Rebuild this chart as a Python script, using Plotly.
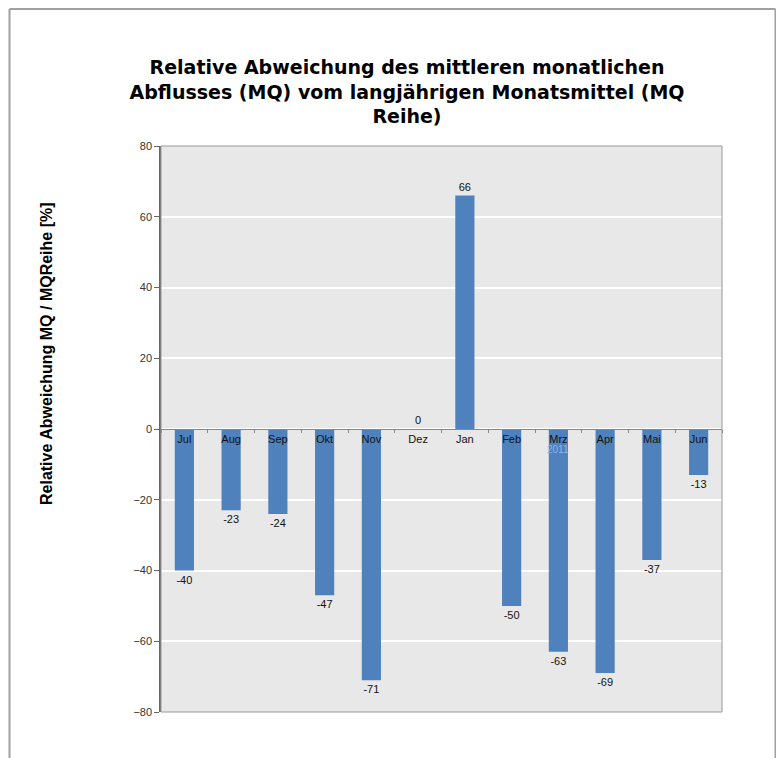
import plotly.graph_objects as go

months = ["Jul", "Aug", "Sep", "Okt", "Nov", "Dez", "Jan", "Feb", "Mrz", "Apr", "Mai", "Jun"]
values = [-40, -23, -24, -47, -71, 0, 66, -50, -63, -69, -37, -13]
y_ticks = [-80, -60, -40, -20, 0, 20, 40, 60, 80]

title_text = ("Relative Abweichung des mittleren monatlichen<br>"
              "Abflusses (MQ) vom langjährigen Monatsmittel (MQ<br>Reihe)")
y_title = "Relative Abweichung MQ / MQReihe [%]"
year_label = "2011"

# page offset of the figure inside the browser window
OFF = 8
PL, PR, PT, PB = 161, 722, 146, 712  # plot area in screen pixels
PW, PH = PR - PL, PB - PT


def px(x):
    return (x - PL) / PW


def py(y):
    return (PB - y) / PH


fig = go.Figure()
fig.add_trace(go.Bar(
    x=months, y=values,
    marker=dict(color="#4F81BD", line=dict(width=0)),
    text=[str(v) for v in values],
    textposition="outside",
    cliponaxis=False,
    textfont=dict(family="Liberation Sans, Arial", size=11, color="#111"),
    width=0.41,
))

fig.update_layout(
    width=784, height=758,
    margin=dict(l=PL - OFF, r=784 - PW - (PL - OFF), t=PT - OFF, b=758 - PH - (PT - OFF)),
    paper_bgcolor="white",
    plot_bgcolor="#E8E8E8",
    showlegend=False,
    title=dict(text=title_text, x=(407 - OFF) / 784, xanchor="center",
               y=1 - (74 - OFF) / 758, yanchor="middle",
               xref="container", yref="container",
               font=dict(family="DejaVu Sans, Liberation Sans, Arial", size=19, color="black",
                         weight="bold")),
    xaxis=dict(
        type="category", anchor="free", position=0.5,
        showline=True, linecolor="#888", linewidth=1,
        ticks="outside", ticklen=3, tickcolor="#888", tickson="boundaries",
        showgrid=False, zeroline=False,
        tickfont=dict(family="Liberation Sans, Arial", size=11, color="#111"),
        range=[-0.5, 11.5],
    ),
    yaxis=dict(
        range=[-80, 80], tickvals=y_ticks,
        showgrid=True, gridcolor="white", gridwidth=1.5,
        zeroline=False,
        showline=True, linecolor="#666", linewidth=1.5,
        ticks="outside", ticklen=5, tickcolor="#666",
        tickfont=dict(family="Liberation Sans, Arial", size=11, color="#333"),
    ),
    shapes=[
        dict(type="rect", xref="paper", yref="paper", x0=0, x1=1, y0=0, y1=1,
             line=dict(color="#999", width=1), layer="above"),
        dict(type="line", xref="paper", yref="paper",
             x0=px(9.5), x1=px(9.5), y0=py(9), y1=py(800),
             line=dict(color="#A0A0A0", width=2)),
        dict(type="line", xref="paper", yref="paper",
             x0=px(9.5), x1=px(775.5), y0=py(9), y1=py(9),
             line=dict(color="#A0A0A0", width=2)),
        dict(type="line", xref="paper", yref="paper",
             x0=px(775.5), x1=px(775.5), y0=py(9), y1=py(800),
             line=dict(color="#A0A0A0", width=2)),
    ],
    annotations=[
        dict(text=y_title, textangle=-90, xref="paper", yref="paper",
             x=px(46), y=py(354), showarrow=False,
             xanchor="center", yanchor="middle",
             font=dict(family="Liberation Sans, Arial", size=16,
                       color="black", weight="bold")),
        dict(text=year_label, xref="x", yref="paper", x="Mrz", y=py(449),
             showarrow=False, xanchor="center", yanchor="middle",
             font=dict(family="Liberation Sans, Arial", size=10, color="#8FB4E8")),
    ],
)

fig.write_html("out.html")
